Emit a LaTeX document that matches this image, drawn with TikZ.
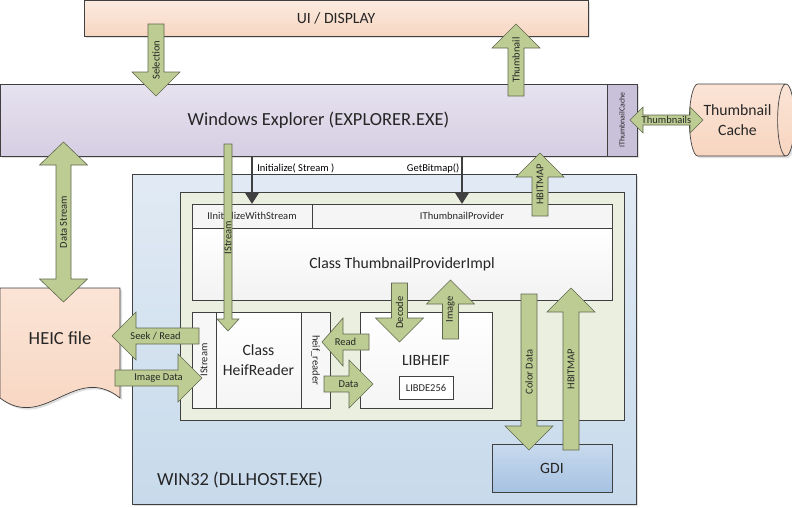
\documentclass[tikz,border=0pt]{standalone}
\usepackage{fontspec}
\setmainfont{Carlito}
\usepackage{tikz}
\usetikzlibrary{arrows.meta}
\usetikzlibrary{calc}
\usetikzlibrary{shapes.geometric}
\usetikzlibrary{shadows}

\definecolor{uitop}{RGB}{252,235,224}
\definecolor{uibot}{RGB}{247,214,193}
\definecolor{extop}{RGB}{230,226,239}
\definecolor{exbot}{RGB}{214,206,227}
\definecolor{itcfill}{RGB}{201,192,218}
\definecolor{wintop}{RGB}{225,234,244}
\definecolor{winbot}{RGB}{199,218,235}
\definecolor{dllfill}{RGB}{235,239,224}
\definecolor{gditop}{RGB}{200,218,238}
\definecolor{gdibot}{RGB}{166,194,225}
\definecolor{heictop}{RGB}{251,228,214}
\definecolor{heicbot}{RGB}{247,213,192}
\definecolor{arrowgreen}{RGB}{189,204,146}
\definecolor{arrowline}{RGB}{96,104,80}

% block arrow sizes: shaft half width, head half width, head length
\def\bsw{8pt}
\def\bhw{24pt}
\def\bhl{24pt}

% block arrow from (#1-a) to (#1-b), label #2 turned by #3
\newcommand{\barrow}[3]{%
	\coordinate (#1-m) at ($(#1-b)!\bhl!(#1-a)$);
	\draw[barrow] ($(#1-a)!\bsw!90:(#1-b)$) -- ($(#1-m)!\bsw!90:(#1-b)$) -- ($(#1-m)!\bhw!90:(#1-b)$) -- (#1-b)
		-- ($(#1-m)!\bhw!-90:(#1-b)$) -- ($(#1-m)!\bsw!-90:(#1-b)$) -- ($(#1-a)!\bsw!-90:(#1-b)$) -- cycle;
	\node[albl, rotate=#3] (#1-l) at ($(#1-a)!0.5!(#1-b)$) {#2};
}
% same with a head at both ends
\newcommand{\dbarrow}[3]{%
	\coordinate (#1-m) at ($(#1-b)!\bhl!(#1-a)$);
	\coordinate (#1-n) at ($(#1-a)!\bhl!(#1-b)$);
	\draw[barrow] (#1-a) -- ($(#1-n)!\bhw!90:(#1-b)$) -- ($(#1-n)!\bsw!90:(#1-b)$) -- ($(#1-m)!\bsw!90:(#1-b)$) -- ($(#1-m)!\bhw!90:(#1-b)$) -- (#1-b)
		-- ($(#1-m)!\bhw!-90:(#1-b)$) -- ($(#1-m)!\bsw!-90:(#1-b)$) -- ($(#1-n)!\bsw!-90:(#1-b)$) -- ($(#1-n)!\bhw!-90:(#1-b)$) -- cycle;
	\node[albl, rotate=#3] (#1-l) at ($(#1-a)!0.5!(#1-b)$) {#2};
}

\begin{document}
\begin{tikzpicture}[x=1pt, y=-1pt,
		box/.style={draw=black!75, line width=0.7pt, inner sep=0pt, outer sep=0pt, align=center, text=black!85},
		shadowed/.style={drop shadow={shadow xshift=2pt, shadow yshift=-2pt, fill=black!18, opacity=0.7}},
		fbig/.style={font=\fontsize{18.5}{22}\selectfont},
		fmid/.style={font=\fontsize{15.7}{19.5}\selectfont},
		fsmall/.style={font=\fontsize{10.5}{12}\selectfont},
		albl/.style={fsmall, inner sep=0pt, text=black!85},
		barrow/.style={draw=arrowline, line width=0.6pt, fill=arrowgreen},
		call/.style={draw=black!75, line width=2.6pt, -{Triangle[width=13pt,length=11pt]}}]
	\useasboundingbox (0,0) rectangle (792,507);

	% top level
	\node[box, shadowed, top color=uitop, bottom color=uibot, minimum width=504pt, minimum height=36pt, fmid] (UI) at (336,18) {UI / DISPLAY};
	\node[box, shadowed, top color=extop, bottom color=exbot, minimum width=637pt, minimum height=72pt, fbig] (EXP) at (318.5,120) {Windows Explorer (EXPLORER.EXE)};
	\node[box, fill=itcfill, rotate=90, minimum width=72pt, minimum height=30pt, font=\fontsize{7.8}{9}\selectfont] (ITC) at (622,120) {IThumbnailCache};
	\node[box, shadowed, shape=cylinder, aspect=0.55, top color=heictop, bottom color=heicbot, minimum width=72pt, minimum height=105pt, fmid] (CACHE) at (737.5,120) {Thumbnail\\Cache};

	% dll host
	\node[box, shadowed, top color=wintop, bottom color=winbot, minimum width=504pt, minimum height=330pt] (WIN) at (384,339) {};
	\node[fbig, anchor=west, inner sep=0pt, text=black!85] (WINL) at (157,480) {WIN32 (DLLHOST.EXE)};
	\node[box, fill=dllfill, minimum width=444pt, minimum height=228pt] (DLL) at (402,306) {};
	\node[box, top color=white, bottom color=black!5, minimum width=420pt, minimum height=72pt, fmid] (IMPL) at (402,264) {Class ThumbnailProviderImpl};
	\node[box, fill=black!4, minimum width=120pt, minimum height=24pt, fsmall] (IIWS) at (252,216) {IInitializeWithStream};
	\node[box, fill=black!4, minimum width=300pt, minimum height=24pt, fsmall] (ITP) at (462,216) {IThumbnailProvider};
	\node[box, fill=black!3, rotate=90, minimum width=96pt, minimum height=24pt, fsmall] (IST) at (204,360) {IStream};
	\node[box, top color=white, bottom color=black!4, minimum width=85pt, minimum height=96pt, fmid] (HR) at (258.5,360) {Class\\HeifReader};
	\node[box, fill=black!3, rotate=-90, minimum width=96pt, minimum height=29pt, fsmall] (HRD) at (315.5,360) {heif\_reader};
	\node[box, top color=white, bottom color=black!4, minimum width=132pt, minimum height=96pt, fmid] (LH) at (426,360) {LIBHEIF};
	\node[box, fill=white, minimum width=54pt, minimum height=23pt, fsmall] (DE) at (426,387.5) {LIBDE256};
	\node[box, top color=gditop, bottom color=gdibot, minimum width=120pt, minimum height=48pt, fmid] (GDI) at (552,468) {GDI};

	% file
	\draw[box, shadowed, top color=heictop, bottom color=heicbot] (0,288) -- (120,288) -- (120,398)
		.. controls (75,362) and (45,432) .. (0,398) -- cycle;
	\node[fbig, text=black!85] (HEIC) at (60,338) {HEIC file};

	% calls
	\draw[call] (EXP.south -| IIWS) -- (IIWS.north) node[pos=0.25, right=4pt, fsmall, inner sep=0pt] (INIT) {Initialize( Stream )};
	\draw[call] (EXP.south -| ITP) -- (ITP.north) node[pos=0.25, left=1.5pt, fsmall, inner sep=0pt] (GETB) {GetBitmap()};

	% block arrows
	\coordinate (sel-a) at (156,24);	\coordinate (sel-b) at (156,96);
	\coordinate (thu-a) at (516,96);	\coordinate (thu-b) at (516,24);
	\coordinate (tcs-a) at (630,120);	\coordinate (tcs-b) at (703,120);
	\coordinate (dst-a) at (63.5,142);	\coordinate (dst-b) at (63.5,302);
	\coordinate (ist-a) at (228,144);	\coordinate (ist-b) at (228,331);
	\coordinate (hb1-a) at (540,216);	\coordinate (hb1-b) at (540,153);
	\coordinate (srd-a) at (199,336);	\coordinate (srd-b) at (112,336);
	\coordinate (imd-a) at (115,378);	\coordinate (imd-b) at (202,378);
	\coordinate (rd-a) at (369,342);	\coordinate (rd-b) at (322,342);
	\coordinate (dt-a) at (324,384);	\coordinate (dt-b) at (373,384);
	\coordinate (dec-a) at (399.5,283);	\coordinate (dec-b) at (399.5,342);
	\coordinate (img-a) at (450.5,339);	\coordinate (img-b) at (450.5,280);
	\coordinate (cd-a) at (529,294);	\coordinate (cd-b) at (529,450);
	\coordinate (hb2-a) at (571,450);	\coordinate (hb2-b) at (571,288);

	\barrow{sel}{Selection}{90}
	\barrow{thu}{Thumbnail}{90}
	{\def\bsw{5pt}\def\bhw{13pt}\def\bhl{13pt}\dbarrow{tcs}{Thumbnails}{0}}
	{\def\bsw{7.5pt}\def\bhl{23pt}\dbarrow{dst}{Data Stream}{90}}
	{\def\bsw{4pt}\def\bhw{11pt}\def\bhl{12pt}\barrow{ist}{IStream}{90}}
	\barrow{hb1}{HBITMAP}{90}
	\barrow{srd}{Seek / Read}{0}
	\barrow{imd}{Image Data}{0}
	{\def\bhl{21pt}\barrow{rd}{Read}{0}}
	\barrow{dt}{Data}{0}
	\barrow{dec}{Decode}{90}
	\barrow{img}{Image}{90}
	\barrow{cd}{Color Data}{90}
	\barrow{hb2}{HBITMAP}{90}
\end{tikzpicture}
\end{document}
